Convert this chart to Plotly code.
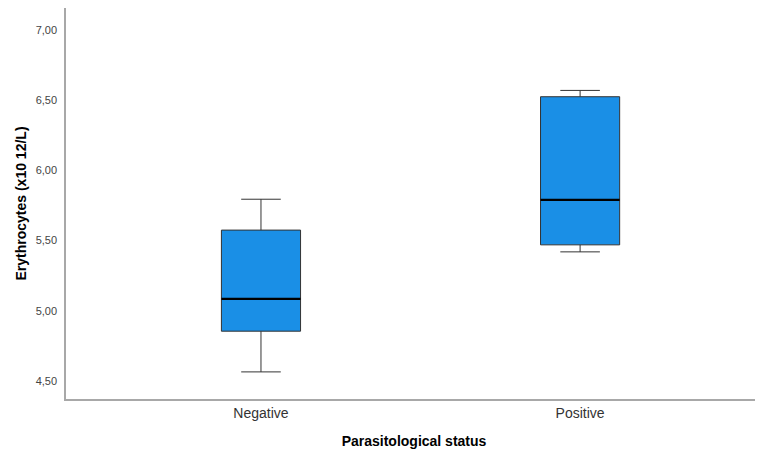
import plotly.graph_objects as go

categories = ["Negative", "Positive"]
lower_whisker = [4.565, 5.42]
q1 = [4.855, 5.47]
median = [5.085, 5.79]
q3 = [5.575, 6.525]
upper_whisker = [5.795, 6.57]
y_ticks = [4.5, 5.0, 5.5, 6.0, 6.5, 7.0]

xpos = list(range(len(categories)))

fig = go.Figure()
fig.add_trace(go.Box(
    x=xpos,
    q1=q1, median=median, q3=q3,
    lowerfence=lower_whisker, upperfence=upper_whisker,
    width=0.248,
    whiskerwidth=0.5,
    fillcolor="#1a8fe6",
    line=dict(color="#333333", width=1),
    boxpoints=False,
    hoverinfo="skip",
    showlegend=False,
))

for xi, m in zip(xpos, median):
    fig.add_shape(type="line", xref="x", yref="y",
                  x0=xi - 0.124, x1=xi + 0.124, y0=m, y1=m,
                  line=dict(color="#000000", width=2.2))

fig.update_layout(
    width=755, height=446,
    margin=dict(l=58, r=1, t=0, b=55),
    paper_bgcolor="white", plot_bgcolor="white",
    separators=",.",
    font=dict(family="Liberation Sans, Arial, sans-serif"),
    xaxis=dict(
        range=[-0.611, 1.57],
        tickvals=xpos, ticktext=categories,
        showgrid=False, zeroline=False,
        showline=True, linecolor="#a8a8a8", linewidth=1.5,
        ticks="", tickfont=dict(size=14, color="#333333"),
        title=dict(text="<b>Parasitological status</b>", font=dict(size=14, color="#000000"), standoff=17),
    ),
    yaxis=dict(
        range=[4.372, 7.157],
        tickvals=y_ticks, tickformat=".2f",
        showgrid=False, zeroline=False,
        showline=True, linecolor="#a8a8a8", linewidth=1.5,
        ticks="", tickfont=dict(size=11, color="#444444"),
        ticklabelstandoff=5,
        title=dict(text="<b>Erythrocytes (x10 12/L)</b>", font=dict(size=14, color="#000000"), standoff=6),
    ),
)

fig.write_html("out.html")
